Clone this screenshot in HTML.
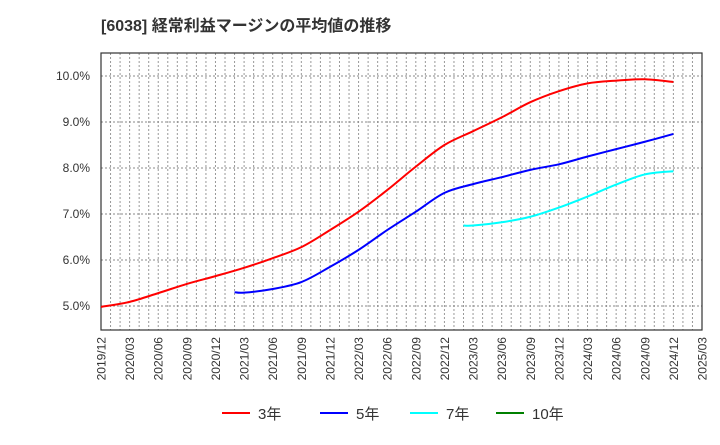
<!DOCTYPE html>
<html><head><meta charset="utf-8"><style>
body{margin:0;background:#fff;font-family:"Liberation Sans","Noto Sans CJK JP",sans-serif;}
</style></head><body>
<svg width="720" height="440" xmlns="http://www.w3.org/2000/svg" style="font-family:'Liberation Sans','Noto Sans CJK JP',sans-serif">
<text x="101" y="31" font-size="16" font-weight="bold" fill="#333">[6038]  経常利益マージンの平均値の推移</text>
<g id="grid"></g><g id="axes"></g><g id="series"></g><g id="legend"></g>
</svg>
<script>
const ns="http://www.w3.org/2000/svg";
const xTickLabels=["2019/12","2020/03","2020/06","2020/09","2020/12","2021/03","2021/06","2021/09","2021/12","2022/03","2022/06","2022/09","2022/12","2023/03","2023/06","2023/09","2023/12","2024/03","2024/06","2024/09","2024/12","2025/03"];
const yTicks=[5,6,7,8,9,10];
const months3=[0,3,6,9,12,15,18,21,24,27,30,33,36,39,42,45,48,51,54,57,60];
const values3=[4.98,5.09,5.28,5.48,5.65,5.83,6.04,6.28,6.65,7.05,7.52,8.03,8.5,8.8,9.1,9.43,9.67,9.84,9.9,9.93,9.87];
const months5=[14,15,18,21,24,27,30,33,36,39,42,45,48,51,54,57,60];
const values5=[5.3,5.29,5.37,5.52,5.85,6.22,6.65,7.05,7.46,7.65,7.8,7.96,8.08,8.25,8.41,8.57,8.74];
const months7=[38,39,42,45,48,51,54,57,60];
const values7=[6.75,6.75,6.82,6.94,7.14,7.38,7.64,7.86,7.93];
const months10=[];
const values10=[];
const L=101,R=702,T=53,B=330,NM=63;
const xS=m=>L+(R-L)*m/NM;
const yS=v=>306-(v-5)*46;
function mk(tag,attrs,parent){const e=document.createElementNS(ns,tag);for(const k in attrs)e.setAttribute(k,attrs[k]);parent.appendChild(e);return e;}
const grid=document.getElementById('grid'),axes=document.getElementById('axes'),ser=document.getElementById('series'),leg=document.getElementById('legend');
for(let m=1;m<NM;m++){const l=mk('line',{x1:xS(m),x2:xS(m),y1:T,y2:B,stroke:'#999','stroke-dasharray':'2,2','stroke-width':1},grid);

}
yTicks.forEach(v=>{const l=mk('line',{x1:L,x2:R,y1:yS(v),y2:yS(v),stroke:'#888','stroke-dasharray':'2,2','stroke-width':1},grid);


const t=mk('text',{x:90,y:yS(v)+4,'text-anchor':'end','font-size':12,fill:'#333'},axes);


t.textContent=v.toFixed(1)+'%';});
const fr=mk('rect',{x:L,y:T,width:R-L,height:B-T,fill:'none',stroke:'#333','stroke-width':1.2},axes);


xTickLabels.forEach((s,i)=>{const x=xS(i*3);const t=mk('text',{x:0,y:0,transform:`translate(${x+4.5},337) rotate(-90)`,'text-anchor':'end','font-size':12,fill:'#333'},axes);


t.textContent=s;});
function path(ms,vs){const p=ms.map((m,i)=>[xS(m),yS(vs[i])]);if(!p.length)return'';let d=`M${p[0][0]},${p[0][1]}`;
for(let i=0;i<p.length-1;i++){const p0=p[i-1]||p[i],p1=p[i],p2=p[i+1],p3=p[i+2]||p2;
d+=` C${p1[0]+(p2[0]-p0[0])/6},${p1[1]+(p2[1]-p0[1])/6} ${p2[0]-(p3[0]-p1[0])/6},${p2[1]-(p3[1]-p1[1])/6} ${p2[0]},${p2[1]}`;}return d;}
const S=[[months3,values3,'#ff0000','3年','series-3y'],[months5,values5,'#0000ff','5年','series-5y'],[months7,values7,'#00ffff','7年','series-7y'],[months10,values10,'#008000','10年','series-10y']];
const lx=[222,320,410,496];
S.forEach((s,i)=>{if(s[0].length){const p=mk('path',{d:path(s[0],s[1]),fill:'none',stroke:s[2],'stroke-width':2},ser);

}
const g=mk('g',{},leg);


mk('line',{x1:lx[i],x2:lx[i]+28,y1:413,y2:413,stroke:s[2],'stroke-width':2},g);
const t=mk('text',{x:lx[i]+36,y:419,'font-size':15,fill:'#333'},g);t.textContent=s[3];});
</script>
</body></html>
